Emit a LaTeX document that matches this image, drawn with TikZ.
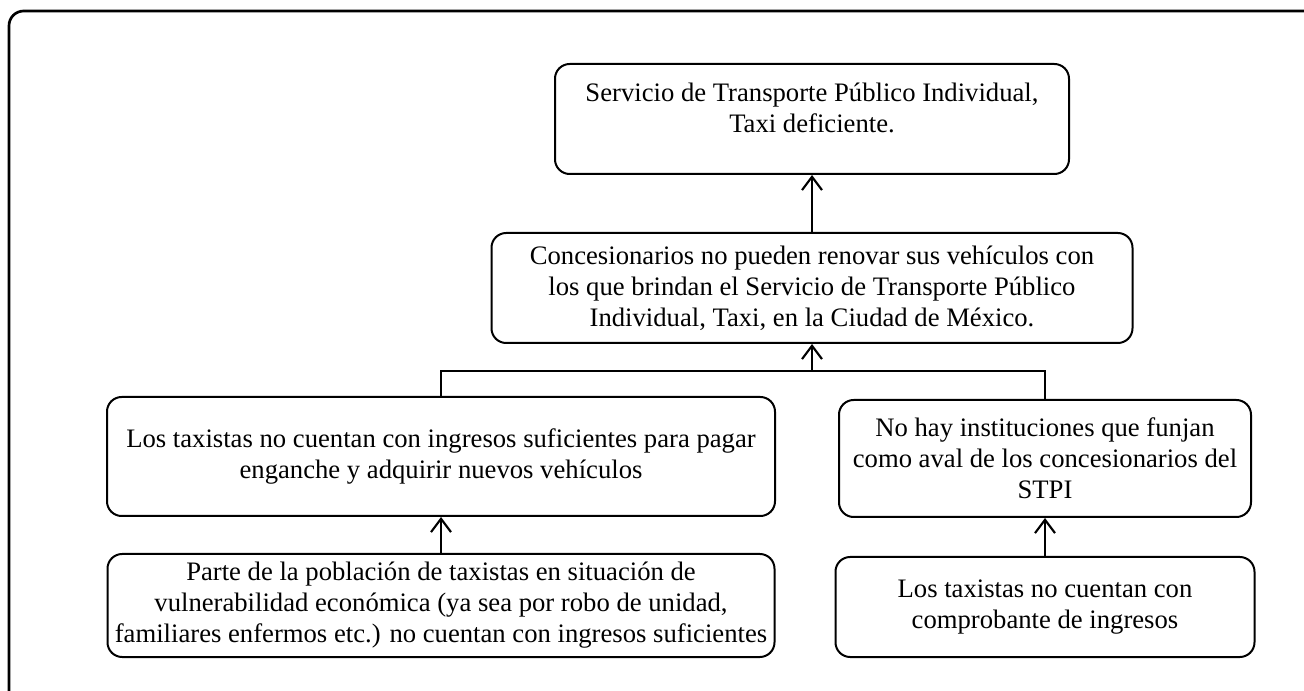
\documentclass[tikz,border=0pt]{standalone}
\usepackage{fontspec}
\setmainfont{Liberation Serif}
\usetikzlibrary{arrows.meta}
\begin{document}
\begin{tikzpicture}[x=0.75pt,y=-0.75pt,
  box/.style={draw, line width=1.5pt, rounded corners=11pt, align=center, inner sep=0pt,
    font=\fontsize{20}{23.25}\selectfont},
  conn/.style={line width=1.5pt},
  arr/.style={conn, -{Straight Barb[length=10pt,width=15pt,line width=1.6pt]}}]
\useasboundingbox (0,0) rectangle (1304,691);
\draw[line width=2pt, rounded corners=11pt] (9,720) -- (9,11) -- (1330,11);
\node[box, minimum width=385.5pt, minimum height=82.5pt] (top) at (812,119)
  {Servicio de Transporte Público Individual,\\Taxi deficiente.\\[-6pt]};
\node[box, minimum width=480.75pt, minimum height=82.5pt] (mid) at (812,288)
  {Concesionarios no pueden renovar sus vehículos con\\los que brindan el Servicio de Transporte Público\\Individual, Taxi, en la Ciudad de México.};
\node[box, minimum width=501pt, minimum height=89.25pt] (left) at (441,456.5)
  {Los taxistas no cuentan con ingresos suficientes para pagar\\enganche y adquirir nuevos vehículos};
\node[box, minimum width=309pt, minimum height=87.75pt] (right) at (1045,458.5)
  {No hay instituciones que funjan\\como aval de los concesionarios del\\STPI};
\node[box, minimum width=500.25pt, minimum height=77.25pt] (bl) at (441,605.5)
  {Parte de la población de taxistas en situación de\\vulnerabilidad económica (ya sea por robo de unidad,\\familiares enfermos etc.) no cuentan con ingresos suficientes};
\node[box, minimum width=314.25pt, minimum height=75pt] (br) at (1045,607)
  {Los taxistas no cuentan con\\comprobante de ingresos};
\coordinate (j) at (812,371);
\draw[arr] (mid.north) -- (top.south);
\draw[conn] (left.north) |- (j) -| (right.north);
\draw[arr] (j) -- (mid.south);
\draw[arr] (bl.north) -- (left.south);
\draw[arr] (br.north) -- (right.south);
\end{tikzpicture}
\end{document}
